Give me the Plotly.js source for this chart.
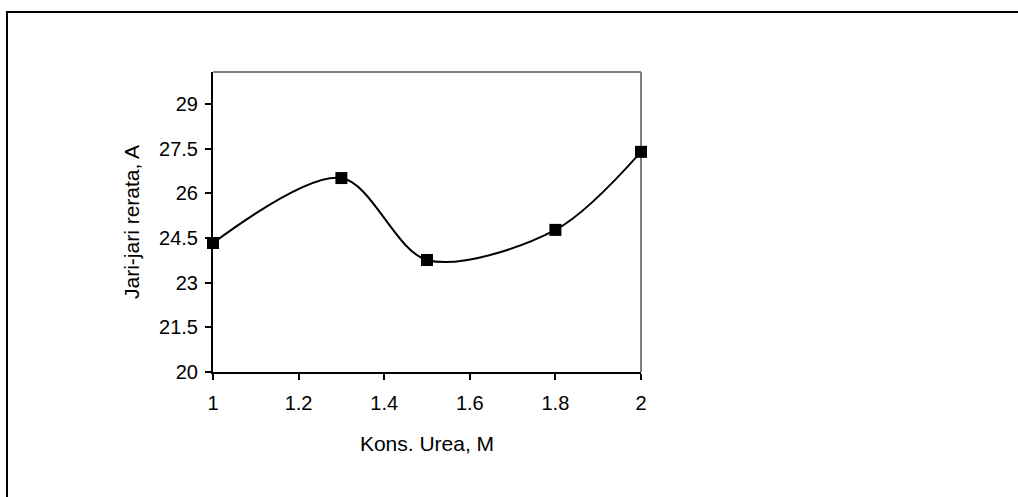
<!DOCTYPE html>
<html><head><meta charset="utf-8">
<script src="https://cdn.plot.ly/plotly-3.0.1.min.js"></script>
<style>
html,body{margin:0;padding:0;background:#fff;overflow:hidden;}
#frame{position:absolute;left:6px;top:11px;width:1100px;height:600px;border:2px solid #000;pointer-events:none;}
#chart{position:absolute;left:0;top:0;width:1018px;height:497px;}
</style>
</head><body>
<div id="chart"></div>
<div id="frame"></div>
<script>
var ureaConc = [1, 1.3, 1.5, 1.8, 2];
var meanRadius = [24.33, 26.51, 23.76, 24.77, 27.39];
var xTicks = [1, 1.2, 1.4, 1.6, 1.8, 2];
var yTicks = [20, 21.5, 23, 24.5, 26, 27.5, 29];
var yTickLabels = ['20', '21.5', '23', '24.5', '26', '27.5', '29'];

var font = {family: 'Liberation Sans, Arial, sans-serif', size: 20, color: '#000'};
var titleFont = {family: 'Liberation Sans, Arial, sans-serif', size: 21, color: '#000'};

Plotly.newPlot('chart', [{
  x: ureaConc, y: meanRadius, type: 'scatter', mode: 'lines+markers',
  line: {color: '#000', width: 2, shape: 'spline', smoothing: 0.9},
  marker: {symbol: 'square', size: 12, color: '#000'},
  cliponaxis: false
}], {
  width: 1018, height: 497,
  margin: {l: 213, r: 377, t: 72, b: 125, pad: 0},
  paper_bgcolor: '#fff', plot_bgcolor: '#fff',
  showlegend: false,
  font: font,
  xaxis: {
    range: [1, 2], tickvals: xTicks, ticktext: xTicks.map(String),
    showgrid: false, zeroline: false, showline: true, linecolor: '#000', linewidth: 2,
    ticks: 'outside', ticklen: 6, tickwidth: 2, tickcolor: '#000',
    tickfont: font, ticklabelstandoff: 6,
    title: {text: 'Kons. Urea, M', font: titleFont, standoff: 23}
  },
  yaxis: {
    range: [20, 30.07], tickvals: yTicks, ticktext: yTickLabels,
    showgrid: false, zeroline: false, showline: true, linecolor: '#000', linewidth: 2,
    ticks: 'outside', ticklen: 6, tickwidth: 2, tickcolor: '#000',
    tickfont: font, ticklabelstandoff: 3,
    title: {text: 'Jari-jari rerata, A', font: titleFont, standoff: 14}
  },
  shapes: [
    {type: 'line', xref: 'paper', yref: 'paper', x0: 0, x1: 1, y0: 1, y1: 1, line: {color: '#808080', width: 2}, layer: 'below'},
    {type: 'line', xref: 'paper', yref: 'paper', x0: 1, x1: 1, y0: 0, y1: 1, line: {color: '#808080', width: 2}, layer: 'below'}
  ]
}, {staticPlot: true});
</script>
</body></html>
